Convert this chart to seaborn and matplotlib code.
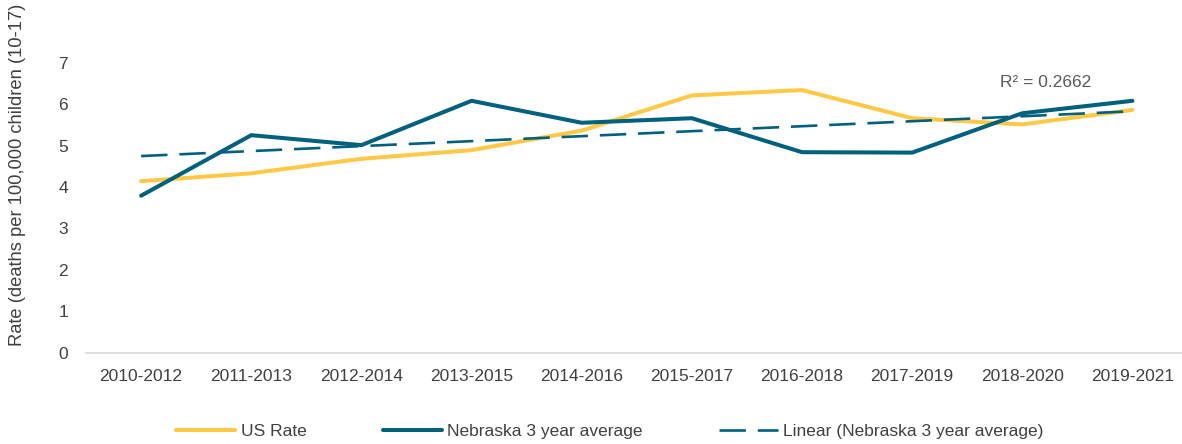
import numpy as np
import pandas as pd
import matplotlib
matplotlib.use("Agg")
import matplotlib.pyplot as plt
import seaborn as sns

# values
periods = ["2010-2012", "2011-2013", "2012-2014", "2013-2015", "2014-2016",
           "2015-2017", "2016-2018", "2017-2019", "2018-2020", "2019-2021"]
us_rate = [4.14, 4.33, 4.68, 4.89, 5.36, 6.21, 6.34, 5.66, 5.51, 5.86]
nebraska_avg = [3.79, 5.25, 5.01, 6.08, 5.55, 5.66, 4.84, 4.83, 5.78, 6.08]
y_ticks = [0, 1, 2, 3, 4, 5, 6, 7]

YELLOW = "#FFC845"
TEAL = "#00617F"
TEXT = "#404040"


def main():
    sns.set_style("white")
    plt.rcParams['font.family'] = ['Liberation Sans', 'DejaVu Sans']

    df = pd.DataFrame({
        "idx": np.arange(len(periods)),
        "period": periods,
        "US Rate": us_rate,
        "Nebraska 3 year average": nebraska_avg,
    })

    # Excel-style linear trendline over the Nebraska series
    x = df["idx"].to_numpy() + 1
    y = df["Nebraska 3 year average"].to_numpy()
    slope, intercept = np.polyfit(x, y, 1)
    df["trend"] = slope * x + intercept

    fig = plt.figure(figsize=(11.82, 4.44), dpi=100)
    ax = fig.add_axes([0.0728, 0.2056, 0.9272, 0.6532])

    sns.lineplot(data=df, x="idx", y="US Rate", ax=ax, color=YELLOW,
                 linewidth=2.9, label="US Rate", clip_on=False)
    sns.lineplot(data=df, x="idx", y="Nebraska 3 year average", ax=ax, color=TEAL,
                 linewidth=2.9, label="Nebraska 3 year average", clip_on=False)
    sns.lineplot(data=df, x="idx", y="trend", ax=ax, color=TEAL,
                 linewidth=1.9, linestyle=(0, (10, 4.5)),
                 label="Linear (Nebraska 3 year average)", clip_on=False)

    ax.text(7.8, 6.51, "R² = 0.2662", color="#595959", fontsize=12.5,
            ha="left", va="center")

    ax.set_xlim(-0.5, 9.45)
    ax.set_ylim(0, 7)
    ax.set_xticks(df["idx"])
    ax.set_xticklabels(periods, fontsize=12.5, color=TEXT)
    ax.set_yticks(y_ticks)
    ax.set_yticklabels([str(t) for t in y_ticks], fontsize=12.5, color=TEXT)
    ax.tick_params(axis="x", length=0, pad=12)
    ax.tick_params(axis="y", length=0, pad=13)
    ax.set_xlabel("")
    ax.set_ylabel("")

    for side in ["top", "right", "left"]:
        ax.spines[side].set_visible(False)
    ax.spines["bottom"].set_color("#D9D9D9")
    ax.spines["bottom"].set_linewidth(1.2)

    fig.text(0.0152, 0.606, "Rate (deaths per 100,000 children (10-17)",
             rotation=90, ha="center", va="center", fontsize=13.2, color=TEXT)

    handles, labels = ax.get_legend_handles_labels()
    ax.get_legend().remove()
    fig.legend(handles, labels, loc="center", bbox_to_anchor=(0.516, 0.028),
               ncol=3, frameon=False, fontsize=12.5, handlelength=3.4,
               columnspacing=4.4, handletextpad=0.3, labelcolor=TEXT,
               borderpad=0)

    fig.savefig("out.png", dpi=100)


if __name__ == "__main__":
    main()
